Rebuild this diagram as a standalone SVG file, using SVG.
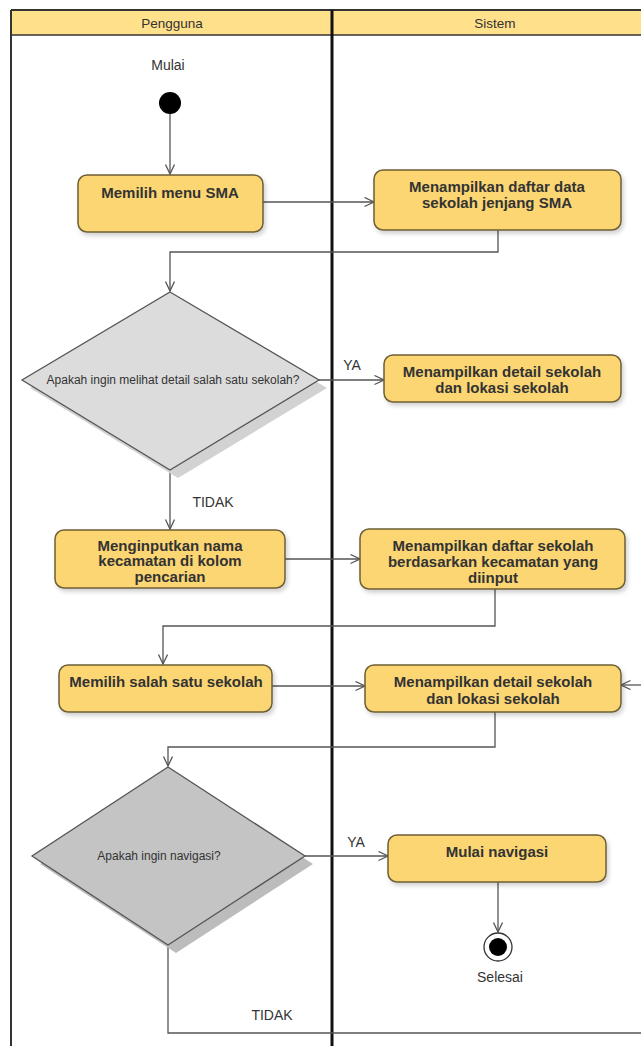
<svg xmlns="http://www.w3.org/2000/svg" width="641" height="1046" viewBox="0 0 641 1046">
  <style>
    .lane-title { font-family: "Liberation Sans", Arial, sans-serif; font-size: 13.5px; fill: #333; text-anchor: middle; }
    .act { fill: #fbd673; stroke: #6e5f35; stroke-width: 1.5; }
    .act-text { font-family: "Liberation Sans", Arial, sans-serif; font-size: 15px; font-weight: bold; fill: #333; text-anchor: middle; }
    .dec-text { font-family: "Liberation Sans", Arial, sans-serif; font-size: 12px; fill: #333; text-anchor: middle; }
    .label { font-family: "Liberation Sans", Arial, sans-serif; font-size: 14px; fill: #333; text-anchor: middle; }
    .conn { fill: none; stroke: #555; stroke-width: 1.3; }
    .dec { stroke: #555; stroke-width: 1.3; }
  </style>
  <defs>
    <marker id="open-arrow" markerUnits="userSpaceOnUse" markerWidth="12" markerHeight="12" refX="10" refY="5" orient="auto">
      <path d="M0.5,0.5 L10,5 L0.5,9.5" fill="none" stroke="#555" stroke-width="1.3"/>
    </marker>
    <filter id="soft-shadow" x="-10%" y="-20%" width="125%" height="150%">
      <feDropShadow dx="2" dy="3" stdDeviation="2" flood-color="#000" flood-opacity="0.18"/>
    </filter>
  </defs>

  <rect x="0" y="0" width="641" height="1046" fill="#fff"/>

  <!-- swimlane frame -->
  <g id="lanes">
    <rect x="11" y="10" width="640" height="25" fill="#ffe08b"/>
    <line x1="11" y1="10" x2="641" y2="10" stroke="#333" stroke-width="2"/>
    <line x1="11" y1="35" x2="641" y2="35" stroke="#333" stroke-width="1.5"/>
    <line x1="11" y1="10" x2="11" y2="1046" stroke="#333" stroke-width="2"/>
    <line x1="332" y1="10" x2="332" y2="1046" stroke="#111" stroke-width="3"/>
    <text class="lane-title" x="172" y="28">Pengguna</text>
    <text class="lane-title" x="495" y="28">Sistem</text>
  </g>

  <!-- connectors -->
  <g id="connectors">
    <path class="conn" d="M170,114 V174" marker-end="url(#open-arrow)"/>
    <path class="conn" d="M263,202 H374" marker-end="url(#open-arrow)"/>
    <path class="conn" d="M498,230 V252 H170 V291" marker-end="url(#open-arrow)"/>
    <path class="conn" d="M319,380 H384" marker-end="url(#open-arrow)"/>
    <path class="conn" d="M170,470 V529" marker-end="url(#open-arrow)"/>
    <path class="conn" d="M285,559 H360" marker-end="url(#open-arrow)"/>
    <path class="conn" d="M495,589 V626 H163 V664" marker-end="url(#open-arrow)"/>
    <path class="conn" d="M272,686 H365" marker-end="url(#open-arrow)"/>
    <path class="conn" d="M641,685 H621" marker-end="url(#open-arrow)"/>
    <path class="conn" d="M495,712 V747 H168 V766" marker-end="url(#open-arrow)"/>
    <path class="conn" d="M305,856 H388" marker-end="url(#open-arrow)"/>
    <path class="conn" d="M498,882 V932" marker-end="url(#open-arrow)"/>
    <path class="conn" d="M168,945 V1033 H641"/>
    <text class="label" x="352" y="370">YA</text>
    <text class="label" x="213" y="507">TIDAK</text>
    <text class="label" x="356" y="847">YA</text>
    <text class="label" x="272" y="1020">TIDAK</text>
  </g>

  <!-- start -->
  <g id="start">
    <text class="label" x="168" y="70">Mulai</text>
    <circle cx="170" cy="103" r="11" fill="#000"/>
  </g>

  <g id="pilih-sma">
    <rect class="act" x="78" y="175" width="185" height="57" rx="9" filter="url(#soft-shadow)"/>
    <text class="act-text" x="170" y="198">Memilih menu SMA</text>
  </g>

  <g id="daftar-sma">
    <rect class="act" x="374" y="170" width="247" height="60" rx="9" filter="url(#soft-shadow)"/>
    <text class="act-text" x="497" y="192">Menampilkan daftar data</text>
    <text class="act-text" x="497" y="208">sekolah jenjang SMA</text>
  </g>

  <g id="cek-detail">
    <polygon points="178,300 327,388 178,478 30,388" fill="#d2d2d2"/>
    <polygon class="dec" points="170,292 319,380 170,470 22,380" fill="#dcdcdc"/>
    <text class="dec-text" x="173" y="384">Apakah ingin melihat detail salah satu sekolah?</text>
  </g>

  <g id="detail-1">
    <rect class="act" x="384" y="355" width="237" height="47" rx="9" filter="url(#soft-shadow)"/>
    <text class="act-text" x="502" y="377">Menampilkan detail sekolah</text>
    <text class="act-text" x="502" y="393">dan lokasi sekolah</text>
  </g>

  <g id="input-kecamatan">
    <rect class="act" x="55" y="530" width="230" height="58" rx="9" filter="url(#soft-shadow)"/>
    <text class="act-text" x="170" y="551">Menginputkan nama</text>
    <text class="act-text" x="170" y="566">kecamatan di kolom</text>
    <text class="act-text" x="170" y="582">pencarian</text>
  </g>

  <g id="daftar-kecamatan">
    <rect class="act" x="360" y="529" width="265" height="60" rx="9" filter="url(#soft-shadow)"/>
    <text class="act-text" x="493" y="551">Menampilkan daftar sekolah</text>
    <text class="act-text" x="493" y="567">berdasarkan kecamatan yang</text>
    <text class="act-text" x="493" y="583">diinput</text>
  </g>

  <g id="pilih-sekolah">
    <rect class="act" x="59" y="665" width="213" height="47" rx="9" filter="url(#soft-shadow)"/>
    <text class="act-text" x="166" y="687">Memilih salah satu sekolah</text>
  </g>

  <g id="detail-2">
    <rect class="act" x="365" y="665" width="256" height="47" rx="9" filter="url(#soft-shadow)"/>
    <text class="act-text" x="493" y="687">Menampilkan detail sekolah</text>
    <text class="act-text" x="493" y="704">dan lokasi sekolah</text>
  </g>

  <g id="cek-navigasi">
    <polygon points="176,775 313,864 176,953 40,864" fill="#bcbcbc"/>
    <polygon class="dec" points="168,767 305,856 168,945 32,856" fill="#c4c4c4"/>
    <text class="dec-text" x="159" y="860">Apakah ingin navigasi?</text>
  </g>

  <g id="navigasi">
    <rect class="act" x="388" y="835" width="218" height="47" rx="9" filter="url(#soft-shadow)"/>
    <text class="act-text" x="497" y="857">Mulai navigasi</text>
  </g>

  <!-- end -->
  <g id="end">
    <circle cx="498" cy="947" r="14" fill="#fff" stroke="#333" stroke-width="1.3"/>
    <circle cx="498" cy="947" r="9" fill="#000"/>
    <text class="label" x="500" y="982">Selesai</text>
  </g>
</svg>
